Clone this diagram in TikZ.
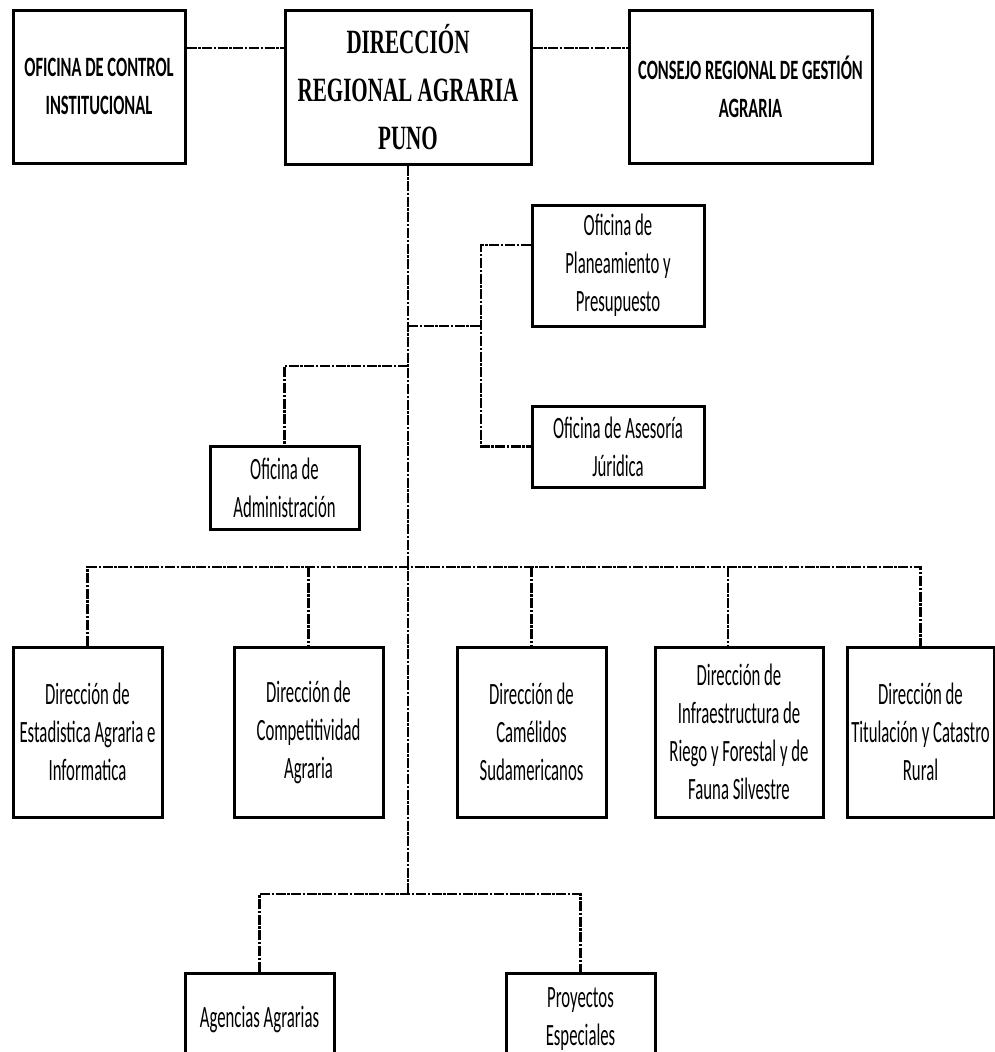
\documentclass[tikz,border=0pt]{standalone}
\usepackage{fontspec}
\setmainfont{Carlito}
\newfontfamily\nfont[FakeStretch=0.54]{Carlito}
\newfontfamily\bfont[FakeStretch=0.59]{Carlito}
\newfontfamily\sfont[FakeStretch=0.62]{Liberation Serif}
\usetikzlibrary{calc}
\tikzset{
  box/.style={draw, line width=3pt, inner sep=0pt, align=center, rectangle,
    font=\nfont\fontsize{31}{38}\selectfont},
  topbox/.style={box, font=\bfont\bfseries\fontsize{28}{38}\selectfont},
  headbox/.style={box, font=\sfont\bfseries\fontsize{34}{48}\selectfont},
  conn/.style={line width=2.6pt, dash pattern=on 10pt off 1.6pt on 2.4pt off 1.6pt}
}
\begin{document}
\begin{tikzpicture}[x=1pt,y=-1pt]
\useasboundingbox (0,0) rectangle (995,1052);
\clip (0,0) rectangle (995,1052);

% top row
\node[topbox, minimum width=172pt, minimum height=153pt] (ctrl) at (99,86.5) {OFICINA DE CONTROL\\INSTITUCIONAL};
\node[headbox, minimum width=246pt, minimum height=154pt] (dir) at (408,87) {DIRECCIÓN\\REGIONAL AGRARIA\\PUNO};
\node[topbox, minimum width=243pt, minimum height=153pt] (cons) at (750.5,86.5) {CONSEJO REGIONAL DE GESTIÓN\\AGRARIA};

% offices
\node[box, minimum width=172pt, minimum height=121pt] (plan) at (618,265.5) {Oficina de\\Planeamiento y\\Presupuesto};
\node[box, minimum width=172pt, minimum height=81pt] (ases) at (618,446.5) {Oficina de Asesoría\\Júridica};
\node[box, minimum width=149pt, minimum height=83pt] (admin) at (284.5,487.5) {Oficina de\\Administración};

% directions
\node[box, minimum width=149pt, minimum height=170pt] (d1) at (87.5,732) {Dirección de\\Estadistica Agraria e\\Informatica};
\node[box, minimum width=149pt, minimum height=170pt] (d2) at (308.5,732) {Dirección de\\Competitividad\\Agraria};
\node[box, minimum width=149pt, minimum height=170pt] (d3) at (531.5,732) {Dirección de\\Camélidos\\Sudamericanos};
\node[box, minimum width=168pt, minimum height=170pt] (d4) at (739,732) {Dirección de\\Infraestructura de\\Riego y Forestal y de\\Fauna Silvestre};
\node[box, minimum width=147pt, minimum height=170pt] (d5) at (920.5,732) {Dirección de\\Titulación y Catastro\\Rural};

% bottom
\node[box, minimum width=149pt, minimum height=92pt] (ag) at (259.5,1019) {Agencias Agrarias};
\node[box, minimum width=149pt, minimum height=92pt] (pe) at (580.5,1019) {Proyectos\\Especiales};

% coordinates
\coordinate (ytop) at (0,48);
\coordinate (j1) at (408,326);
\coordinate (j2) at (408,366);
\coordinate (j3) at (408,567);
\coordinate (tb) at (408,894);
\coordinate (pv) at (481,326);

% connectors
\draw[conn] (ctrl.east |- ytop) -- (dir.west |- ytop);
\draw[conn] (dir.east |- ytop) -- (cons.west |- ytop);
\draw[conn] (dir.south) -- (tb);
\draw[conn] (j1) -- (pv);
\draw[conn] ($(plan.west)+(0,-20.5)$) -| (pv |- ases.west) -- (ases.west);
\draw[conn] (j2) -| (admin.north);
\draw[conn] (d1.north) -- (d1.north |- j3) -- (d5.north |- j3) -- (d5.north);
\draw[conn] (d2.north |- j3) -- (d2.north);
\draw[conn] (d3.north |- j3) -- (d3.north);
\coordinate (d4n) at ($(d4.north)+(-11,0)$);
\draw[conn] (d4n |- j3) -- (d4n);
\draw[conn] (ag.north) |- (tb) -| (pe.north);
\end{tikzpicture}
\end{document}
